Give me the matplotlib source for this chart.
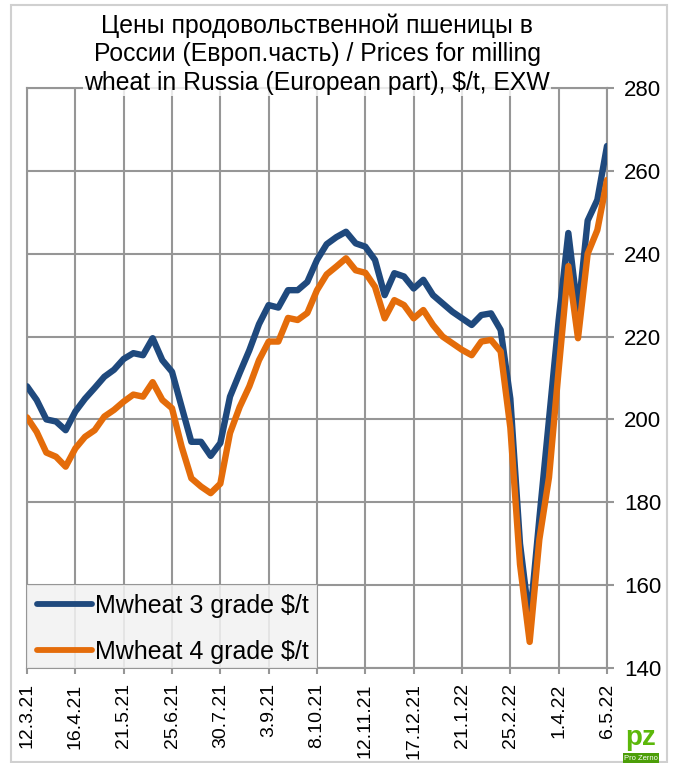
import matplotlib
matplotlib.use("Agg")
import matplotlib.pyplot as plt
from matplotlib.patches import Rectangle

plt.rcParams['font.family'] = ['Liberation Sans', 'DejaVu Sans']

# weekly prices, 12.3.21 .. 6.5.22
grade3 = [208, 204.7, 200, 199.5, 197.4, 201.9, 205, 207.6, 210.3, 212,
          214.6, 216, 215.5, 219.6, 214.3, 211.5, 203, 194.6, 194.6, 191.2,
          194.3, 205.5, 211.2, 216.7, 223, 227.6, 227, 231.2, 231.2, 233.2,
          238.5, 242.3, 244, 245.3, 242.5, 241.7, 238.5, 230, 235.3, 234.5,
          231.6, 233.7, 230, 228, 226, 224.4, 222.8, 225.2, 225.6, 221.6,
          205, 170, 151, 176, 200, 224, 245, 225.7, 248, 253, 266]
grade4 = [200.5, 197, 192, 191, 188.6, 193, 195.8, 197.4, 200.7, 202.3,
          204.3, 206, 205.5, 209, 204.7, 202.7, 193.4, 185.8, 183.8, 182.2,
          184.5, 196.7, 203, 208, 214.3, 218.8, 218.8, 224.5, 224, 225.7,
          231.2, 235, 236.9, 238.9, 236, 235.4, 232, 224.4, 228.8, 227.6,
          224.4, 226.4, 222.8, 220, 218.4, 216.8, 215.5, 218.8, 219.2, 216.4,
          198, 165, 146.3, 171, 186, 212, 237, 219.6, 240, 245.7, 257.8]
tick_labels = ['12.3.21', '16.4.21', '21.5.21', '25.6.21', '30.7.21', '3.9.21',
               '8.10.21', '12.11.21', '17.12.21', '21.1.22', '25.2.22', '1.4.22',
               '6.5.22']
y_ticks = [140, 160, 180, 200, 220, 240, 260, 280]

W, H = 676, 763
fig = plt.figure(figsize=(W / 100, H / 100), dpi=100)
ax = fig.add_axes([27 / W, 1 - 668 / H, (607 - 27) / W, (668 - 88) / H])

grid_c = '#969696'
x = list(range(len(grade3)))
ax.plot(x, grade3, color='#1f497d', lw=4.6, solid_capstyle='round',
        solid_joinstyle='round', label='Mwheat 3 grade $/t', zorder=3)
ax.plot(x, grade4, color='#e46c0a', lw=4.6, solid_capstyle='round',
        solid_joinstyle='round', label='Mwheat 4 grade $/t', zorder=4)

ax.set_xlim(0, len(grade3) - 1)
ax.set_ylim(140, 280)
ax.set_xticks(range(0, len(grade3), 5))
ax.set_xticklabels(tick_labels, rotation=90, fontsize=14)
ax.set_yticks(y_ticks)
ax.yaxis.tick_right()
ax.tick_params(axis='y', labelsize=16, length=5, width=1.5, color=grid_c, pad=7.5)
ax.tick_params(axis='x', length=4, width=1.5, color=grid_c, pad=7)
ax.grid(True, color=grid_c, lw=1.5)
for s in ax.spines.values():
    s.set_color(grid_c)
    s.set_linewidth(1.5)

# legend background drawn separately so the rows can sit where they are in the original
pw, ph = 580, 580
ax.add_patch(Rectangle((0, 0), (317 - 27) / pw, (668 - 585) / ph, transform=ax.transAxes,
                       facecolor='#f2f2f2', edgecolor='none', alpha=0.85, zorder=5))
leg = ax.legend(loc='lower left', bbox_to_anchor=(10 / pw, 4 / ph), borderaxespad=0,
                fontsize=18, frameon=False, handlelength=2.2,
                handletextpad=0.12, labelspacing=0.88, borderpad=0)
leg.set_zorder(6)
for ln in leg.get_lines():
    ln.set_linewidth(4.2)
    ln.set_solid_capstyle('round')

fig.text(317 / W, 1 - 13 / H,
         'Цены продовольственной пшеницы в\nРоссии (Европ.часть) / Prices for milling\nwheat in Russia (European part), $/t, EXW',
         ha='center', va='top', fontsize=17.8, linespacing=1.25,
         bbox=dict(facecolor='white', edgecolor='none', alpha=0.8, pad=1))

fig.patches.append(Rectangle((11 / W, 1 - 762 / H), (667 - 11) / W, (762 - 5) / H,
                             transform=fig.transFigure, fill=False,
                             edgecolor='#d0d0d0', lw=1.5))

fig.text(641 / W, 1 - 738 / H, 'pz', ha='center', va='center', fontsize=20,
         fontweight='bold', color='#5cb80a')
fig.text(641 / W, 1 - 758 / H, 'Pro Zerno', ha='center', va='center', fontsize=5.5,
         color='white', bbox=dict(facecolor='#4c9e08', edgecolor='none', pad=0.8))

fig.savefig('out.png', dpi=100)
